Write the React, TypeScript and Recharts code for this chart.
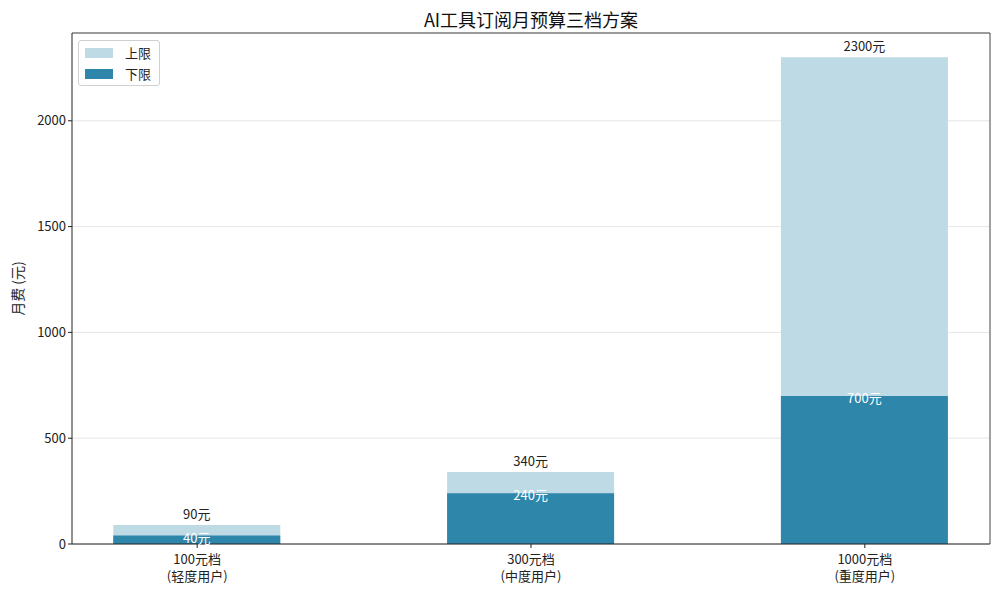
import React from 'react';
import { BarChart, Bar, XAxis, YAxis, CartesianGrid, LabelList, ReferenceLine } from 'recharts';

const tierLabels = ['100元档', '300元档', '1000元档'];
const userLabels = ['(轻度用户)', '(中度用户)', '(重度用户)'];
const upperValues = [90, 340, 2300];
const lowerValues = [40, 240, 700];
const yTicks = [0, 500, 1000, 1500, 2000];

const LIGHT = '#BDDAE5';
const DARK = '#2E86AB';
const FONT = '"Noto Sans CJK SC", "Noto Sans", sans-serif';

const data = tierLabels.map((t, i) => ({ idx: i, tier: t, upper: upperValues[i], lower: lowerValues[i] }));

const XTick = (props: any) => {
  const { x, y, payload } = props;
  const i = payload.value as number;
  return (
    <g transform={`translate(${x},${y})`}>
      <text x={0} y={14} textAnchor="middle" fontSize={13} fill="#222" fontFamily={FONT}>{tierLabels[i]}</text>
      <text x={0} y={31} textAnchor="middle" fontSize={13} fill="#222" fontFamily={FONT}>{userLabels[i]}</text>
    </g>
  );
};

const TopLabel = (props: any) => {
  const { x, y, width, value } = props;
  return (
    <text x={x + width / 2} y={y - 6} textAnchor="middle" fontSize={13} fill="#222" fontFamily={FONT}>{`${value}元`}</text>
  );
};

const InnerLabel = (props: any) => {
  const { x, y, width, value } = props;
  return (
    <text x={x + width / 2} y={y + 7} textAnchor="middle" fontSize={13} fill="#fff" fontFamily={FONT}>{`${value}元`}</text>
  );
};

const legendItems = [{ c: LIGHT, t: '上限' }, { c: DARK, t: '下限' }];

export default function App() {
  return (
    <div style={{ position: 'absolute', left: 0, top: 0, width: 1000, height: 594, background: '#fff' }}>
      <div style={{ position: 'absolute', left: 72, width: 918, top: 6, textAlign: 'center', fontFamily: FONT, fontSize: 18, fontWeight: 'normal', color: '#111' }}>
        AI工具订阅月预算三档方案
      </div>
      <BarChart width={1000} height={594} data={data} margin={{ top: 33, right: 10, bottom: 0, left: 0 }}>
        <CartesianGrid horizontal vertical={false} stroke="#e6e6e6" xAxisId="a" />
        <XAxis
          xAxisId="a"
          type="number"
          dataKey="idx"
          domain={[-0.375, 2.375]}
          allowDataOverflow
          ticks={[0, 1, 2]}
          interval={0}
          height={50}
          tick={<XTick />}
          tickLine={{ stroke: '#222' }}
          tickSize={4}
          axisLine={{ stroke: '#222' }}
        />
        <XAxis xAxisId="b" type="number" dataKey="idx" domain={[-0.375, 2.375]} allowDataOverflow ticks={[0, 1, 2]} hide />
        <YAxis
          width={72}
          domain={[0, 2415]}
          allowDataOverflow
          ticks={yTicks}
          interval={0}
          tick={{ fontSize: 13, fill: '#222', fontFamily: FONT }}
          tickLine={{ stroke: '#222' }}
          tickSize={4}
          axisLine={{ stroke: '#222' }}
          label={{
            content: (p: any) => {
              const vb = p.viewBox;
              const cy = vb.y + vb.height / 2;
              return (
                <text x={17} y={cy} transform={`rotate(-90, 17, ${cy})`} textAnchor="middle" dominantBaseline="central" fontSize={14} fill="#222" fontFamily={FONT}>月费 (元)</text>
              );
            },
          }}
        />
        <ReferenceLine xAxisId="a" y={2415} stroke="#444" />
        <ReferenceLine xAxisId="a" x={2.375} stroke="#444" />
        <Bar xAxisId="a" dataKey="upper" name="上限" fill={LIGHT} barSize={167} isAnimationActive={false}>
          <LabelList dataKey="upper" content={<TopLabel />} />
        </Bar>
        <Bar xAxisId="b" dataKey="lower" name="下限" fill={DARK} barSize={167} isAnimationActive={false}>
          <LabelList dataKey="lower" content={<InnerLabel />} />
        </Bar>
      </BarChart>
      <div style={{ position: 'absolute', left: 78, top: 40, border: '1px solid #d0d0d0', borderRadius: 3, background: '#fff', padding: '1px 8px 1px 6px', fontFamily: FONT, fontSize: 13, color: '#222', whiteSpace: 'nowrap' }}>
        {legendItems.map((e) => (
          <div key={e.t} style={{ display: 'flex', alignItems: 'center', height: 21 }}>
            <div style={{ width: 28, height: 10, background: e.c, marginRight: 12 }} />
            <span>{e.t}</span>
          </div>
        ))}
      </div>
    </div>
  );
}
